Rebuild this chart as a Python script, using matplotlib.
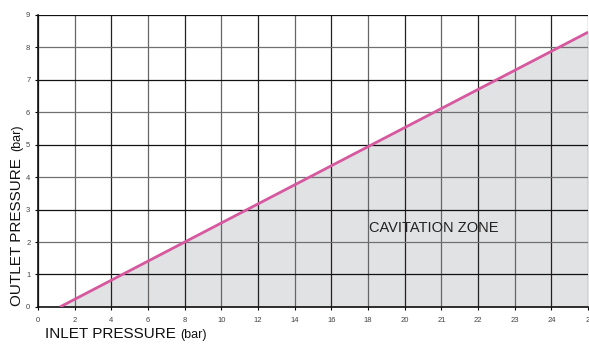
import matplotlib
matplotlib.use("Agg")
from matplotlib import pyplot as plt

plt.rcParams['font.family'] = ['Liberation Sans', 'DejaVu Sans']

# grid positions (one column per tick) and their labels
x_pos = list(range(16))
x_labels = ['0', '2', '4', '6', '8', '10', '12', '14', '16', '18',
            '20', '21', '22', '23', '24', '2']
y_ticks = list(range(10))

# cavitation limit line, in grid units
limit_x = [0.6, 15.0]
limit_y = [0.0, 8.47]

fig = plt.figure(figsize=(5.89, 3.48), dpi=100)
ax = fig.add_axes([0.0645, 0.118, 0.934, 0.839])

ax.fill_between(limit_x, limit_y, 0, color='#e1e2e4', zorder=1)

# grid, alternating dark / light lines
for i, x in enumerate(x_pos):
    c = '#222222' if i % 2 == 0 else '#666666'
    ax.axvline(x, color=c, lw=0.9, zorder=2)
for j, y in enumerate(y_ticks):
    c = '#111111' if j % 2 == 1 else '#707070'
    ax.axhline(y, color=c, lw=0.9, zorder=2)

ax.plot(limit_x, limit_y, color='#d6589f', lw=2.0, zorder=3,
        solid_capstyle='butt')

ax.text(10.8, 2.44, 'CAVITATION ZONE', fontsize=10.5, color='#222222',
        ha='center', va='center', zorder=4)

ax.set_xlim(0, 15)
ax.set_ylim(0, 9)
ax.set_xticks(x_pos)
ax.set_xticklabels(x_labels)
ax.set_yticks(y_ticks)
ax.tick_params(axis='both', labelsize=5.5, labelcolor='#444444',
               length=2.5, width=0.8, pad=3)
ax.tick_params(axis='x', pad=5)
for s in ['top', 'right']:
    ax.spines[s].set_visible(False)
for s in ['left', 'bottom']:
    ax.spines[s].set_color('#111111')
    ax.spines[s].set_linewidth(1.2)

xl = fig.text(0.076, 0.028, 'INLET PRESSURE', fontsize=11, color='#111111',
              ha='left', va='baseline')
ax.annotate('(bar)', xy=(1, 0), xycoords=xl, xytext=(3, 0),
            textcoords='offset points', fontsize=9, color='#111111',
            ha='left', va='bottom', annotation_clip=False)
yl = fig.text(0.040, 0.12, 'OUTLET PRESSURE', fontsize=11, color='#111111',
              rotation=90, ha='right', va='bottom')
ax.annotate('(bar)', xy=(1, 1), xycoords=yl, xytext=(0, 5),
            textcoords='offset points', fontsize=9, color='#111111',
            rotation=90, ha='right', va='bottom', annotation_clip=False)

fig.savefig('out.png', dpi=100)
